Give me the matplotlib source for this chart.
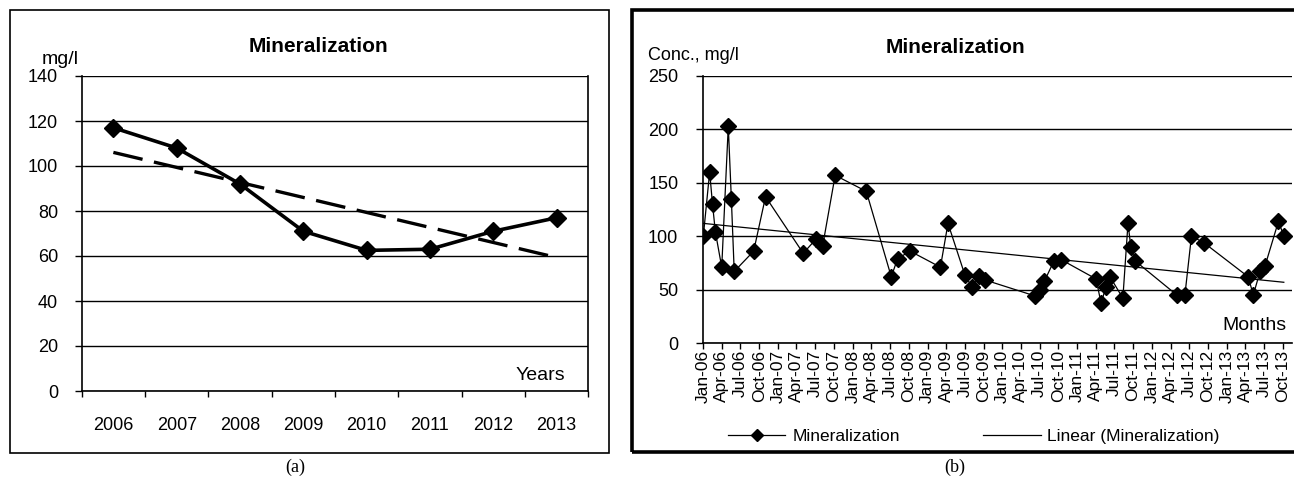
import matplotlib
matplotlib.use("Agg")
import matplotlib.pyplot as plt
import matplotlib.dates as mdates
import numpy as np
import pandas as pd
from matplotlib.patches import Rectangle
from matplotlib.lines import Line2D

plt.rcParams.update({
    "font.family": "Liberation Sans",
    "font.size": 13,
})

# (a) yearly averages
years = ["2006", "2007", "2008", "2009", "2010", "2011", "2012", "2013"]
mineral_year = [117, 108, 92, 71, 62.5, 63, 71, 77]

# (b) individual samples
sample_dates = [
    "2006-01-01", "2006-02-01", "2006-02-15", "2006-03-01", "2006-04-01",
    "2006-05-03", "2006-05-18", "2006-06-01", "2006-09-04", "2006-11-01",
    "2007-05-04", "2007-07-04", "2007-08-07", "2007-10-07", "2008-03-07",
    "2008-07-07", "2008-08-07", "2008-10-07", "2009-03-04", "2009-04-10",
    "2009-07-01", "2009-08-06", "2009-09-10", "2009-10-08",
    "2010-06-10", "2010-07-01", "2010-07-25", "2010-09-10", "2010-10-15",
    "2011-04-03", "2011-04-28", "2011-05-20", "2011-06-10", "2011-08-12",
    "2011-09-06", "2011-09-20", "2011-10-10",
    "2012-05-01", "2012-06-10", "2012-07-12", "2012-09-10",
    "2013-04-15", "2013-05-10", "2013-06-12", "2013-07-06", "2013-09-10",
    "2013-10-06",
]
mineral_month = [
    100, 160, 130, 104, 71,
    203, 135, 67, 86, 137,
    84, 97, 91, 157, 142,
    62, 79, 86, 71, 112,
    64, 52, 63, 59,
    44, 50, 58, 77, 78,
    60, 37, 52, 62, 42,
    112, 90, 77,
    45, 45, 100, 94,
    62, 45, 67, 72, 114,
    100,
]

W, H = 1294, 478
fig = plt.figure(figsize=(W / 100, H / 100), dpi=100)


def fx(px):
    return px / W


def fy(py):
    return 1 - py / H


# panel frames
fig.patches.append(Rectangle((fx(10), fy(453)), fx(599), 443 / H, transform=fig.transFigure,
                             fill=False, lw=1.2, ec="black"))
fig.patches.append(Rectangle((fx(632), fy(452)), fx(680), 442 / H, transform=fig.transFigure,
                             fill=False, lw=2.6, ec="black"))

# ---------- (a) ----------
ax1 = fig.add_axes([fx(81.7), fy(391), fx(588.3 - 81.7), (391 - 76) / H])
x = np.arange(len(years))
ax1.plot(x, mineral_year, color="black", lw=2.6, marker="D", ms=9)
coef = np.polyfit(x, mineral_year, 1)  # linear trend, as in the original
ax1.plot(x, np.polyval(coef, x), color="black", lw=2.4, dashes=(9, 3.5))
ax1.set_xlim(-0.5, len(years) - 0.5)
ax1.set_ylim(0, 140)
ax1.set_yticks(range(0, 141, 20))
ax1.yaxis.grid(True, color="black", lw=1)
ax1.set_axisbelow(True)
ax1.set_xticks(np.arange(-0.5, len(years), 1))
ax1.set_xticklabels([])
ax1.set_xticks(x, minor=True)
ax1.set_xticklabels(years, minor=True)
ax1.tick_params(axis="x", which="major", direction="out", length=4.5, width=1)
ax1.tick_params(axis="x", which="minor", length=0, pad=19, labelsize=13)
ax1.tick_params(axis="y", direction="out", length=5, width=1, pad=12, labelsize=13)
for s in ["left", "bottom", "right"]:
    ax1.spines[s].set_linewidth(1.2)
ax1.spines["top"].set_visible(False)
fig.text(fx(42), fy(60), "mg/l", fontsize=14, va="center", ha="left")
fig.text(fx(318), fy(46), "Mineralization", fontsize=15, fontweight="bold", ha="center", va="center")
fig.text(fx(565), fy(375), "Years", fontsize=14, ha="right", va="center")
fig.text(fx(295), fy(467), "(a)", fontsize=13, family="Liberation Serif", ha="center", va="center")

# ---------- (b) ----------
dates = pd.to_datetime(sample_dates)
ax2 = fig.add_axes([fx(703.3), fy(343), fx(1292 - 703.3), (343 - 76) / H])
ax2.plot(dates, mineral_month, color="black", lw=0.9, marker="D", ms=8.5)
dnum = mdates.date2num(dates)
c2 = np.polyfit(dnum, mineral_month, 1)
ax2.plot(dates[[0, -1]], np.polyval(c2, dnum[[0, -1]]), color="black", lw=0.9)
ax2.set_xlim(pd.Timestamp("2006-01-01"), pd.Timestamp("2013-11-15"))
ax2.set_ylim(0, 250)
ax2.set_yticks(range(0, 251, 50))
ax2.yaxis.grid(True, color="black", lw=1)
ax2.set_axisbelow(True)
ax2.xaxis.set_major_locator(mdates.MonthLocator(bymonth=[1, 4, 7, 10]))
ax2.xaxis.set_major_formatter(mdates.DateFormatter("%b-%y"))
ax2.tick_params(axis="x", direction="out", length=4, width=1, pad=1, labelsize=12.5, labelrotation=90)
ax2.tick_params(axis="y", direction="out", length=5, width=1, pad=13, labelsize=13)
ax2.spines["top"].set_visible(False)
ax2.spines["right"].set_visible(False)
for s in ["left", "bottom"]:
    ax2.spines[s].set_linewidth(1.2)
fig.text(fx(648), fy(56), "Conc., mg/l", fontsize=13, ha="left", va="center")
fig.text(fx(955), fy(47), "Mineralization", fontsize=15, fontweight="bold", ha="center", va="center")
fig.text(fx(1286), fy(325), "Months", fontsize=14, ha="right", va="center")
fig.text(fx(955), fy(467), "(b)", fontsize=13, family="Liberation Serif", ha="center", va="center")

handles = [Line2D([], [], color="black", lw=0.9, marker="D", ms=6),
           Line2D([], [], color="black", lw=0.9)]
fig.legend(handles, ["Mineralization", "Linear (Mineralization)"], loc="center",
           bbox_to_anchor=(fx(974), fy(436)), ncol=2, frameon=False, fontsize=12.5,
           handlelength=3.3, columnspacing=4.8, handletextpad=0.4, borderpad=0)

fig.savefig("out.png", dpi=100)
